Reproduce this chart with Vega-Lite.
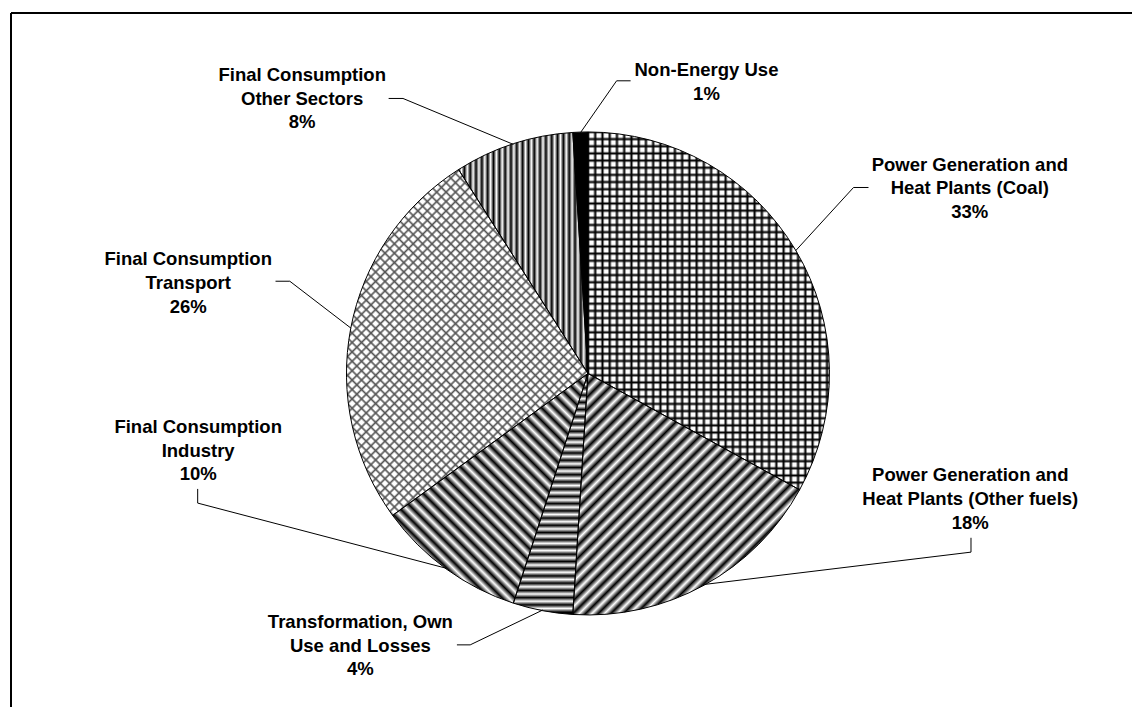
{
  "$schema": "https://vega.github.io/schema/vega-lite/v6.json",
  "width": 1133,
  "height": 708,
  "autosize": {"type": "fit", "contains": "padding"},
  "padding": {"left": 10, "top": 12, "right": 0, "bottom": 0},
  "background": "white",
  "config": {
    "view": {"stroke": null},
    "rule": {"color": "#000", "strokeWidth": 1},
    "text": {"font": "Liberation Sans", "fontSize": 18.5, "fontWeight": "bold", "lineHeight": 23.8, "align": "center", "baseline": "middle", "color": "#000", "lineBreak": "\n"}
  },
  "data": {
    "values": [
      {"id": "coal", "label": "Power Generation and\nHeat Plants (Coal)", "share": 33},
      {"id": "other", "label": "Power Generation and\nHeat Plants (Other fuels)", "share": 18},
      {"id": "trans", "label": "Transformation, Own\nUse and Losses", "share": 4},
      {"id": "ind", "label": "Final Consumption\nIndustry", "share": 10},
      {"id": "tpt", "label": "Final Consumption\nTransport", "share": 26},
      {"id": "oth", "label": "Final Consumption\nOther Sectors", "share": 8},
      {"id": "ne", "label": "Non-Energy Use", "share": 1}
    ]
  },
  "transform": [
    {"window": [{"op": "row_number", "as": "rn"}, {"op": "sum", "field": "share", "as": "cum"}], "frame": [null, 0]},
    {"joinaggregate": [{"op": "sum", "field": "share", "as": "total"}]},
    {"calculate": "2 * PI * (datum.cum - datum.share / 2) / datum.total", "as": "mid"},
    {"calculate": "sin(datum.mid)", "as": "ex"},
    {"calculate": "cos(datum.mid)", "as": "ey"},
    {"calculate": "datum.label + '\\n' + datum.share + '%'", "as": "txt"}
  ],
  "layer": [
    {
      "transform": [{"filter": "datum.rn === 1"}],
      "mark": {"type": "rule", "strokeWidth": 2},
      "encoding": {
        "x": {"datum": -2.3934, "type": "quantitative", "scale": {"domain": [-2.3934, 2.2567], "nice": false, "zero": false}, "axis": null},
        "y": {"datum": -1.3851, "type": "quantitative", "scale": {"domain": [-1.3851, 1.4969], "nice": false, "zero": false}, "axis": null},
        "y2": {"datum": 1.4969}
      }
    },
    {
      "transform": [{"filter": "datum.rn === 1"}],
      "mark": {"type": "rule", "strokeWidth": 2},
      "encoding": {
        "x": {"datum": -2.3934, "type": "quantitative", "scale": {"domain": [-2.3934, 2.2567], "nice": false, "zero": false}, "axis": null},
        "y": {"datum": 1.4969, "type": "quantitative", "scale": {"domain": [-1.3851, 1.4969], "nice": false, "zero": false}, "axis": null},
        "x2": {"datum": 2.2567}
      }
    },
    {
      "mark": {"type": "arc", "outerRadius": 241.5, "strokeWidth": 0},
      "encoding": {
        "x": {"datum": 0, "type": "quantitative", "scale": {"domain": [-2.3934, 2.2567], "nice": false, "zero": false}, "axis": null},
        "y": {"datum": 0, "type": "quantitative", "scale": {"domain": [-1.3851, 1.4969], "nice": false, "zero": false}, "axis": null},
        "theta": {"field": "share", "type": "quantitative", "stack": true},
        "order": {"field": "rn", "type": "quantitative"},
        "fill": {
          "condition": [
            {"test": "datum.id === 'coal'", "value": {"gradient": "linear", "x1": 0, "y1": 0, "x2": 0, "y2": 1, "stops": [
              {"offset":0,"color":"#000"},{"offset":0.006,"color":"#fff"},{"offset":0.014,"color":"#fff"},
              {"offset":0.02,"color":"#000"},{"offset":0.026,"color":"#fff"},{"offset":0.034,"color":"#fff"},
              {"offset":0.04,"color":"#000"},{"offset":0.046,"color":"#fff"},{"offset":0.054,"color":"#fff"},
              {"offset":0.06,"color":"#000"},{"offset":0.066,"color":"#fff"},{"offset":0.074,"color":"#fff"},
              {"offset":0.08,"color":"#000"},{"offset":0.086,"color":"#fff"},{"offset":0.094,"color":"#fff"},
              {"offset":0.1,"color":"#000"},{"offset":0.106,"color":"#fff"},{"offset":0.114,"color":"#fff"},
              {"offset":0.12,"color":"#000"},{"offset":0.126,"color":"#fff"},{"offset":0.134,"color":"#fff"},
              {"offset":0.14,"color":"#000"},{"offset":0.146,"color":"#fff"},{"offset":0.154,"color":"#fff"},
              {"offset":0.16,"color":"#000"},{"offset":0.166,"color":"#fff"},{"offset":0.174,"color":"#fff"},
              {"offset":0.18,"color":"#000"},{"offset":0.186,"color":"#fff"},{"offset":0.194,"color":"#fff"},
              {"offset":0.2,"color":"#000"},{"offset":0.206,"color":"#fff"},{"offset":0.214,"color":"#fff"},
              {"offset":0.22,"color":"#000"},{"offset":0.226,"color":"#fff"},{"offset":0.234,"color":"#fff"},
              {"offset":0.24,"color":"#000"},{"offset":0.246,"color":"#fff"},{"offset":0.254,"color":"#fff"},
              {"offset":0.26,"color":"#000"},{"offset":0.266,"color":"#fff"},{"offset":0.274,"color":"#fff"},
              {"offset":0.28,"color":"#000"},{"offset":0.286,"color":"#fff"},{"offset":0.294,"color":"#fff"},
              {"offset":0.3,"color":"#000"},{"offset":0.306,"color":"#fff"},{"offset":0.314,"color":"#fff"},
              {"offset":0.32,"color":"#000"},{"offset":0.326,"color":"#fff"},{"offset":0.334,"color":"#fff"},
              {"offset":0.34,"color":"#000"},{"offset":0.346,"color":"#fff"},{"offset":0.354,"color":"#fff"},
              {"offset":0.36,"color":"#000"},{"offset":0.366,"color":"#fff"},{"offset":0.374,"color":"#fff"},
              {"offset":0.38,"color":"#000"},{"offset":0.386,"color":"#fff"},{"offset":0.394,"color":"#fff"},
              {"offset":0.4,"color":"#000"},{"offset":0.406,"color":"#fff"},{"offset":0.414,"color":"#fff"},
              {"offset":0.42,"color":"#000"},{"offset":0.426,"color":"#fff"},{"offset":0.434,"color":"#fff"},
              {"offset":0.44,"color":"#000"},{"offset":0.446,"color":"#fff"},{"offset":0.454,"color":"#fff"},
              {"offset":0.46,"color":"#000"},{"offset":0.466,"color":"#fff"},{"offset":0.474,"color":"#fff"},
              {"offset":0.48,"color":"#000"},{"offset":0.486,"color":"#fff"},{"offset":0.494,"color":"#fff"},
              {"offset":0.5,"color":"#000"},{"offset":0.506,"color":"#fff"},{"offset":0.514,"color":"#fff"},
              {"offset":0.52,"color":"#000"},{"offset":0.526,"color":"#fff"},{"offset":0.534,"color":"#fff"},
              {"offset":0.54,"color":"#000"},{"offset":0.546,"color":"#fff"},{"offset":0.554,"color":"#fff"},
              {"offset":0.56,"color":"#000"},{"offset":0.566,"color":"#fff"},{"offset":0.574,"color":"#fff"},
              {"offset":0.58,"color":"#000"},{"offset":0.586,"color":"#fff"},{"offset":0.594,"color":"#fff"},
              {"offset":0.6,"color":"#000"},{"offset":0.606,"color":"#fff"},{"offset":0.614,"color":"#fff"},
              {"offset":0.62,"color":"#000"},{"offset":0.626,"color":"#fff"},{"offset":0.634,"color":"#fff"},
              {"offset":0.64,"color":"#000"},{"offset":0.646,"color":"#fff"},{"offset":0.654,"color":"#fff"},
              {"offset":0.66,"color":"#000"},{"offset":0.666,"color":"#fff"},{"offset":0.674,"color":"#fff"},
              {"offset":0.68,"color":"#000"},{"offset":0.686,"color":"#fff"},{"offset":0.694,"color":"#fff"},
              {"offset":0.7,"color":"#000"},{"offset":0.706,"color":"#fff"},{"offset":0.714,"color":"#fff"},
              {"offset":0.72,"color":"#000"},{"offset":0.726,"color":"#fff"},{"offset":0.734,"color":"#fff"},
              {"offset":0.74,"color":"#000"},{"offset":0.746,"color":"#fff"},{"offset":0.754,"color":"#fff"},
              {"offset":0.76,"color":"#000"},{"offset":0.766,"color":"#fff"},{"offset":0.774,"color":"#fff"},
              {"offset":0.78,"color":"#000"},{"offset":0.786,"color":"#fff"},{"offset":0.794,"color":"#fff"},
              {"offset":0.8,"color":"#000"},{"offset":0.806,"color":"#fff"},{"offset":0.814,"color":"#fff"},
              {"offset":0.82,"color":"#000"},{"offset":0.826,"color":"#fff"},{"offset":0.834,"color":"#fff"},
              {"offset":0.84,"color":"#000"},{"offset":0.846,"color":"#fff"},{"offset":0.854,"color":"#fff"},
              {"offset":0.86,"color":"#000"},{"offset":0.866,"color":"#fff"},{"offset":0.874,"color":"#fff"},
              {"offset":0.88,"color":"#000"},{"offset":0.886,"color":"#fff"},{"offset":0.894,"color":"#fff"},
              {"offset":0.9,"color":"#000"},{"offset":0.906,"color":"#fff"},{"offset":0.914,"color":"#fff"},
              {"offset":0.92,"color":"#000"},{"offset":0.926,"color":"#fff"},{"offset":0.934,"color":"#fff"},
              {"offset":0.94,"color":"#000"},{"offset":0.946,"color":"#fff"},{"offset":0.954,"color":"#fff"},
              {"offset":0.96,"color":"#000"},{"offset":0.966,"color":"#fff"},{"offset":0.974,"color":"#fff"},
              {"offset":0.98,"color":"#000"},{"offset":0.986,"color":"#fff"},{"offset":0.994,"color":"#fff"},
              {"offset":1,"color":"#000"}]}},
            {"test": "datum.id === 'other'", "value": {"gradient": "linear", "x1": 0, "y1": 0, "x2": 0.9677, "y2": 1.0303, "stops": [
              {"offset":0,"color":"#000"},{"offset":0.0135,"color":"#fff"},{"offset":0.027,"color":"#000"},{"offset":0.0405,"color":"#fff"},
              {"offset":0.054,"color":"#000"},{"offset":0.0675,"color":"#fff"},{"offset":0.081,"color":"#000"},{"offset":0.0945,"color":"#fff"},
              {"offset":0.108,"color":"#000"},{"offset":0.1215,"color":"#fff"},{"offset":0.135,"color":"#000"},{"offset":0.1485,"color":"#fff"},
              {"offset":0.162,"color":"#000"},{"offset":0.1755,"color":"#fff"},{"offset":0.189,"color":"#000"},{"offset":0.2025,"color":"#fff"},
              {"offset":0.216,"color":"#000"},{"offset":0.2295,"color":"#fff"},{"offset":0.243,"color":"#000"},{"offset":0.2565,"color":"#fff"},
              {"offset":0.27,"color":"#000"},{"offset":0.2835,"color":"#fff"},{"offset":0.297,"color":"#000"},{"offset":0.3105,"color":"#fff"},
              {"offset":0.324,"color":"#000"},{"offset":0.3375,"color":"#fff"},{"offset":0.351,"color":"#000"},{"offset":0.3645,"color":"#fff"},
              {"offset":0.378,"color":"#000"},{"offset":0.3915,"color":"#fff"},{"offset":0.405,"color":"#000"},{"offset":0.4185,"color":"#fff"},
              {"offset":0.432,"color":"#000"},{"offset":0.4455,"color":"#fff"},{"offset":0.459,"color":"#000"},{"offset":0.4725,"color":"#fff"},
              {"offset":0.486,"color":"#000"},{"offset":0.4995,"color":"#fff"},{"offset":0.513,"color":"#000"},{"offset":0.5265,"color":"#fff"},
              {"offset":0.54,"color":"#000"},{"offset":0.5535,"color":"#fff"},{"offset":0.567,"color":"#000"},{"offset":0.5805,"color":"#fff"},
              {"offset":0.594,"color":"#000"},{"offset":0.6075,"color":"#fff"},{"offset":0.621,"color":"#000"},{"offset":0.6345,"color":"#fff"},
              {"offset":0.648,"color":"#000"},{"offset":0.6615,"color":"#fff"},{"offset":0.675,"color":"#000"},{"offset":0.6885,"color":"#fff"},
              {"offset":0.702,"color":"#000"},{"offset":0.7155,"color":"#fff"},{"offset":0.729,"color":"#000"},{"offset":0.7425,"color":"#fff"},
              {"offset":0.756,"color":"#000"},{"offset":0.7695,"color":"#fff"},{"offset":0.783,"color":"#000"},{"offset":0.7965,"color":"#fff"},
              {"offset":0.81,"color":"#000"},{"offset":0.8235,"color":"#fff"},{"offset":0.837,"color":"#000"},{"offset":0.8505,"color":"#fff"},
              {"offset":0.864,"color":"#000"},{"offset":0.8775,"color":"#fff"},{"offset":0.891,"color":"#000"},{"offset":0.9045,"color":"#fff"},
              {"offset":0.918,"color":"#000"},{"offset":0.9315,"color":"#fff"},{"offset":0.945,"color":"#000"},{"offset":0.9585,"color":"#fff"},
              {"offset":0.972,"color":"#000"},{"offset":0.9855,"color":"#fff"},{"offset":0.999,"color":"#000"}]}},
            {"test": "datum.id === 'trans'", "value": {"gradient": "linear", "x1": 0, "y1": 0, "x2": 0, "y2": 1, "stops": [
              {"offset":0,"color":"#000"},{"offset":0.015,"color":"#fff"},{"offset":0.03,"color":"#000"},{"offset":0.045,"color":"#fff"},
              {"offset":0.06,"color":"#000"},{"offset":0.075,"color":"#fff"},{"offset":0.09,"color":"#000"},{"offset":0.105,"color":"#fff"},
              {"offset":0.12,"color":"#000"},{"offset":0.135,"color":"#fff"},{"offset":0.15,"color":"#000"},{"offset":0.165,"color":"#fff"},
              {"offset":0.18,"color":"#000"},{"offset":0.195,"color":"#fff"},{"offset":0.21,"color":"#000"},{"offset":0.225,"color":"#fff"},
              {"offset":0.24,"color":"#000"},{"offset":0.255,"color":"#fff"},{"offset":0.27,"color":"#000"},{"offset":0.285,"color":"#fff"},
              {"offset":0.3,"color":"#000"},{"offset":0.315,"color":"#fff"},{"offset":0.33,"color":"#000"},{"offset":0.345,"color":"#fff"},
              {"offset":0.36,"color":"#000"},{"offset":0.375,"color":"#fff"},{"offset":0.39,"color":"#000"},{"offset":0.405,"color":"#fff"},
              {"offset":0.42,"color":"#000"},{"offset":0.435,"color":"#fff"},{"offset":0.45,"color":"#000"},{"offset":0.465,"color":"#fff"},
              {"offset":0.48,"color":"#000"},{"offset":0.495,"color":"#fff"},{"offset":0.51,"color":"#000"},{"offset":0.525,"color":"#fff"},
              {"offset":0.54,"color":"#000"},{"offset":0.555,"color":"#fff"},{"offset":0.57,"color":"#000"},{"offset":0.585,"color":"#fff"},
              {"offset":0.6,"color":"#000"},{"offset":0.615,"color":"#fff"},{"offset":0.63,"color":"#000"},{"offset":0.645,"color":"#fff"},
              {"offset":0.66,"color":"#000"},{"offset":0.675,"color":"#fff"},{"offset":0.69,"color":"#000"},{"offset":0.705,"color":"#fff"},
              {"offset":0.72,"color":"#000"},{"offset":0.735,"color":"#fff"},{"offset":0.75,"color":"#000"},{"offset":0.765,"color":"#fff"},
              {"offset":0.78,"color":"#000"},{"offset":0.795,"color":"#fff"},{"offset":0.81,"color":"#000"},{"offset":0.825,"color":"#fff"},
              {"offset":0.84,"color":"#000"},{"offset":0.855,"color":"#fff"},{"offset":0.87,"color":"#000"},{"offset":0.885,"color":"#fff"},
              {"offset":0.9,"color":"#000"},{"offset":0.915,"color":"#fff"},{"offset":0.93,"color":"#000"},{"offset":0.945,"color":"#fff"},
              {"offset":0.96,"color":"#000"},{"offset":0.975,"color":"#fff"},{"offset":0.99,"color":"#000"}]}},
            {"test": "datum.id === 'ind'", "value": {"gradient": "linear", "x1": 0, "y1": 1, "x2": 0.9133, "y2": -0.0738, "stops": [
              {"offset":0,"color":"#000"},{"offset":0.015,"color":"#fff"},{"offset":0.03,"color":"#000"},{"offset":0.045,"color":"#fff"},
              {"offset":0.06,"color":"#000"},{"offset":0.075,"color":"#fff"},{"offset":0.09,"color":"#000"},{"offset":0.105,"color":"#fff"},
              {"offset":0.12,"color":"#000"},{"offset":0.135,"color":"#fff"},{"offset":0.15,"color":"#000"},{"offset":0.165,"color":"#fff"},
              {"offset":0.18,"color":"#000"},{"offset":0.195,"color":"#fff"},{"offset":0.21,"color":"#000"},{"offset":0.225,"color":"#fff"},
              {"offset":0.24,"color":"#000"},{"offset":0.255,"color":"#fff"},{"offset":0.27,"color":"#000"},{"offset":0.285,"color":"#fff"},
              {"offset":0.3,"color":"#000"},{"offset":0.315,"color":"#fff"},{"offset":0.33,"color":"#000"},{"offset":0.345,"color":"#fff"},
              {"offset":0.36,"color":"#000"},{"offset":0.375,"color":"#fff"},{"offset":0.39,"color":"#000"},{"offset":0.405,"color":"#fff"},
              {"offset":0.42,"color":"#000"},{"offset":0.435,"color":"#fff"},{"offset":0.45,"color":"#000"},{"offset":0.465,"color":"#fff"},
              {"offset":0.48,"color":"#000"},{"offset":0.495,"color":"#fff"},{"offset":0.51,"color":"#000"},{"offset":0.525,"color":"#fff"},
              {"offset":0.54,"color":"#000"},{"offset":0.555,"color":"#fff"},{"offset":0.57,"color":"#000"},{"offset":0.585,"color":"#fff"},
              {"offset":0.6,"color":"#000"},{"offset":0.615,"color":"#fff"},{"offset":0.63,"color":"#000"},{"offset":0.645,"color":"#fff"},
              {"offset":0.66,"color":"#000"},{"offset":0.675,"color":"#fff"},{"offset":0.69,"color":"#000"},{"offset":0.705,"color":"#fff"},
              {"offset":0.72,"color":"#000"},{"offset":0.735,"color":"#fff"},{"offset":0.75,"color":"#000"},{"offset":0.765,"color":"#fff"},
              {"offset":0.78,"color":"#000"},{"offset":0.795,"color":"#fff"},{"offset":0.81,"color":"#000"},{"offset":0.825,"color":"#fff"},
              {"offset":0.84,"color":"#000"},{"offset":0.855,"color":"#fff"},{"offset":0.87,"color":"#000"},{"offset":0.885,"color":"#fff"},
              {"offset":0.9,"color":"#000"},{"offset":0.915,"color":"#fff"},{"offset":0.93,"color":"#000"},{"offset":0.945,"color":"#fff"},
              {"offset":0.96,"color":"#000"},{"offset":0.975,"color":"#fff"},{"offset":0.99,"color":"#000"}]}},
            {"test": "datum.id === 'tpt'", "value": {"gradient": "linear", "x1": 0, "y1": 0, "x2": 0.7973, "y2": 1.1416, "stops": [
              {"offset":0,"color":"#555"},{"offset":0.004,"color":"#fff"},{"offset":0.012,"color":"#fff"},
              {"offset":0.016,"color":"#555"},{"offset":0.02,"color":"#fff"},{"offset":0.028,"color":"#fff"},
              {"offset":0.032,"color":"#555"},{"offset":0.036,"color":"#fff"},{"offset":0.044,"color":"#fff"},
              {"offset":0.048,"color":"#555"},{"offset":0.052,"color":"#fff"},{"offset":0.06,"color":"#fff"},
              {"offset":0.064,"color":"#555"},{"offset":0.068,"color":"#fff"},{"offset":0.076,"color":"#fff"},
              {"offset":0.08,"color":"#555"},{"offset":0.084,"color":"#fff"},{"offset":0.092,"color":"#fff"},
              {"offset":0.096,"color":"#555"},{"offset":0.1,"color":"#fff"},{"offset":0.108,"color":"#fff"},
              {"offset":0.112,"color":"#555"},{"offset":0.116,"color":"#fff"},{"offset":0.124,"color":"#fff"},
              {"offset":0.128,"color":"#555"},{"offset":0.132,"color":"#fff"},{"offset":0.14,"color":"#fff"},
              {"offset":0.144,"color":"#555"},{"offset":0.148,"color":"#fff"},{"offset":0.156,"color":"#fff"},
              {"offset":0.16,"color":"#555"},{"offset":0.164,"color":"#fff"},{"offset":0.172,"color":"#fff"},
              {"offset":0.176,"color":"#555"},{"offset":0.18,"color":"#fff"},{"offset":0.188,"color":"#fff"},
              {"offset":0.192,"color":"#555"},{"offset":0.196,"color":"#fff"},{"offset":0.204,"color":"#fff"},
              {"offset":0.208,"color":"#555"},{"offset":0.212,"color":"#fff"},{"offset":0.22,"color":"#fff"},
              {"offset":0.224,"color":"#555"},{"offset":0.228,"color":"#fff"},{"offset":0.236,"color":"#fff"},
              {"offset":0.24,"color":"#555"},{"offset":0.244,"color":"#fff"},{"offset":0.252,"color":"#fff"},
              {"offset":0.256,"color":"#555"},{"offset":0.26,"color":"#fff"},{"offset":0.268,"color":"#fff"},
              {"offset":0.272,"color":"#555"},{"offset":0.276,"color":"#fff"},{"offset":0.284,"color":"#fff"},
              {"offset":0.288,"color":"#555"},{"offset":0.292,"color":"#fff"},{"offset":0.3,"color":"#fff"},
              {"offset":0.304,"color":"#555"},{"offset":0.308,"color":"#fff"},{"offset":0.316,"color":"#fff"},
              {"offset":0.32,"color":"#555"},{"offset":0.324,"color":"#fff"},{"offset":0.332,"color":"#fff"},
              {"offset":0.336,"color":"#555"},{"offset":0.34,"color":"#fff"},{"offset":0.348,"color":"#fff"},
              {"offset":0.352,"color":"#555"},{"offset":0.356,"color":"#fff"},{"offset":0.364,"color":"#fff"},
              {"offset":0.368,"color":"#555"},{"offset":0.372,"color":"#fff"},{"offset":0.38,"color":"#fff"},
              {"offset":0.384,"color":"#555"},{"offset":0.388,"color":"#fff"},{"offset":0.396,"color":"#fff"},
              {"offset":0.4,"color":"#555"},{"offset":0.404,"color":"#fff"},{"offset":0.412,"color":"#fff"},
              {"offset":0.416,"color":"#555"},{"offset":0.42,"color":"#fff"},{"offset":0.428,"color":"#fff"},
              {"offset":0.432,"color":"#555"},{"offset":0.436,"color":"#fff"},{"offset":0.444,"color":"#fff"},
              {"offset":0.448,"color":"#555"},{"offset":0.452,"color":"#fff"},{"offset":0.46,"color":"#fff"},
              {"offset":0.464,"color":"#555"},{"offset":0.468,"color":"#fff"},{"offset":0.476,"color":"#fff"},
              {"offset":0.48,"color":"#555"},{"offset":0.484,"color":"#fff"},{"offset":0.492,"color":"#fff"},
              {"offset":0.496,"color":"#555"},{"offset":0.5,"color":"#fff"},{"offset":0.508,"color":"#fff"},
              {"offset":0.512,"color":"#555"},{"offset":0.516,"color":"#fff"},{"offset":0.524,"color":"#fff"},
              {"offset":0.528,"color":"#555"},{"offset":0.532,"color":"#fff"},{"offset":0.54,"color":"#fff"},
              {"offset":0.544,"color":"#555"},{"offset":0.548,"color":"#fff"},{"offset":0.556,"color":"#fff"},
              {"offset":0.56,"color":"#555"},{"offset":0.564,"color":"#fff"},{"offset":0.572,"color":"#fff"},
              {"offset":0.576,"color":"#555"},{"offset":0.58,"color":"#fff"},{"offset":0.588,"color":"#fff"},
              {"offset":0.592,"color":"#555"},{"offset":0.596,"color":"#fff"},{"offset":0.604,"color":"#fff"},
              {"offset":0.608,"color":"#555"},{"offset":0.612,"color":"#fff"},{"offset":0.62,"color":"#fff"},
              {"offset":0.624,"color":"#555"},{"offset":0.628,"color":"#fff"},{"offset":0.636,"color":"#fff"},
              {"offset":0.64,"color":"#555"},{"offset":0.644,"color":"#fff"},{"offset":0.652,"color":"#fff"},
              {"offset":0.656,"color":"#555"},{"offset":0.66,"color":"#fff"},{"offset":0.668,"color":"#fff"},
              {"offset":0.672,"color":"#555"},{"offset":0.676,"color":"#fff"},{"offset":0.684,"color":"#fff"},
              {"offset":0.688,"color":"#555"},{"offset":0.692,"color":"#fff"},{"offset":0.7,"color":"#fff"},
              {"offset":0.704,"color":"#555"},{"offset":0.708,"color":"#fff"},{"offset":0.716,"color":"#fff"},
              {"offset":0.72,"color":"#555"},{"offset":0.724,"color":"#fff"},{"offset":0.732,"color":"#fff"},
              {"offset":0.736,"color":"#555"},{"offset":0.74,"color":"#fff"},{"offset":0.748,"color":"#fff"},
              {"offset":0.752,"color":"#555"},{"offset":0.756,"color":"#fff"},{"offset":0.764,"color":"#fff"},
              {"offset":0.768,"color":"#555"},{"offset":0.772,"color":"#fff"},{"offset":0.78,"color":"#fff"},
              {"offset":0.784,"color":"#555"},{"offset":0.788,"color":"#fff"},{"offset":0.796,"color":"#fff"},
              {"offset":0.8,"color":"#555"},{"offset":0.804,"color":"#fff"},{"offset":0.812,"color":"#fff"},
              {"offset":0.816,"color":"#555"},{"offset":0.82,"color":"#fff"},{"offset":0.828,"color":"#fff"},
              {"offset":0.832,"color":"#555"},{"offset":0.836,"color":"#fff"},{"offset":0.844,"color":"#fff"},
              {"offset":0.848,"color":"#555"},{"offset":0.852,"color":"#fff"},{"offset":0.86,"color":"#fff"},
              {"offset":0.864,"color":"#555"},{"offset":0.868,"color":"#fff"},{"offset":0.876,"color":"#fff"},
              {"offset":0.88,"color":"#555"},{"offset":0.884,"color":"#fff"},{"offset":0.892,"color":"#fff"},
              {"offset":0.896,"color":"#555"},{"offset":0.9,"color":"#fff"},{"offset":0.908,"color":"#fff"},
              {"offset":0.912,"color":"#555"},{"offset":0.916,"color":"#fff"},{"offset":0.924,"color":"#fff"},
              {"offset":0.928,"color":"#555"},{"offset":0.932,"color":"#fff"},{"offset":0.94,"color":"#fff"},
              {"offset":0.944,"color":"#555"},{"offset":0.948,"color":"#fff"},{"offset":0.956,"color":"#fff"},
              {"offset":0.96,"color":"#555"},{"offset":0.964,"color":"#fff"},{"offset":0.972,"color":"#fff"},
              {"offset":0.976,"color":"#555"},{"offset":0.98,"color":"#fff"},{"offset":0.988,"color":"#fff"},
              {"offset":0.992,"color":"#555"},{"offset":0.996,"color":"#fff"}]}},
            {"test": "datum.id === 'oth'", "value": {"gradient": "linear", "x1": 0, "y1": 0, "x2": 1, "y2": 0, "stops": [
              {"offset":0,"color":"#000"},{"offset":0.0225,"color":"#fff"},{"offset":0.045,"color":"#000"},{"offset":0.0675,"color":"#fff"},
              {"offset":0.09,"color":"#000"},{"offset":0.1125,"color":"#fff"},{"offset":0.135,"color":"#000"},{"offset":0.1575,"color":"#fff"},
              {"offset":0.18,"color":"#000"},{"offset":0.2025,"color":"#fff"},{"offset":0.225,"color":"#000"},{"offset":0.2475,"color":"#fff"},
              {"offset":0.27,"color":"#000"},{"offset":0.2925,"color":"#fff"},{"offset":0.315,"color":"#000"},{"offset":0.3375,"color":"#fff"},
              {"offset":0.36,"color":"#000"},{"offset":0.3825,"color":"#fff"},{"offset":0.405,"color":"#000"},{"offset":0.4275,"color":"#fff"},
              {"offset":0.45,"color":"#000"},{"offset":0.4725,"color":"#fff"},{"offset":0.495,"color":"#000"},{"offset":0.5175,"color":"#fff"},
              {"offset":0.54,"color":"#000"},{"offset":0.5625,"color":"#fff"},{"offset":0.585,"color":"#000"},{"offset":0.6075,"color":"#fff"},
              {"offset":0.63,"color":"#000"},{"offset":0.6525,"color":"#fff"},{"offset":0.675,"color":"#000"},{"offset":0.6975,"color":"#fff"},
              {"offset":0.72,"color":"#000"},{"offset":0.7425,"color":"#fff"},{"offset":0.765,"color":"#000"},{"offset":0.7875,"color":"#fff"},
              {"offset":0.81,"color":"#000"},{"offset":0.8325,"color":"#fff"},{"offset":0.855,"color":"#000"},{"offset":0.8775,"color":"#fff"},
              {"offset":0.9,"color":"#000"},{"offset":0.9225,"color":"#fff"},{"offset":0.945,"color":"#000"},{"offset":0.9675,"color":"#fff"},
              {"offset":0.99,"color":"#000"}]}}
          ],
          "value": "#000"
        }
      }
    },
    {
      "mark": {"type": "arc", "outerRadius": 241.5, "stroke": "#000", "strokeWidth": 1},
      "encoding": {
        "x": {"datum": 0, "type": "quantitative", "scale": {"domain": [-2.3934, 2.2567], "nice": false, "zero": false}, "axis": null},
        "y": {"datum": 0, "type": "quantitative", "scale": {"domain": [-1.3851, 1.4969], "nice": false, "zero": false}, "axis": null},
        "theta": {"field": "share", "type": "quantitative", "stack": true},
        "order": {"field": "rn", "type": "quantitative"},
        "fill": {
          "condition": [
            {"test": "datum.id === 'coal'", "value": {"gradient": "linear", "x1": 0, "y1": 0, "x2": 1, "y2": 0, "stops": [
              {"offset":0,"color":"#000"},{"offset":0.009,"color":"rgba(0,0,0,0)"},{"offset":0.021,"color":"rgba(0,0,0,0)"},
              {"offset":0.03,"color":"#000"},{"offset":0.039,"color":"rgba(0,0,0,0)"},{"offset":0.051,"color":"rgba(0,0,0,0)"},
              {"offset":0.06,"color":"#000"},{"offset":0.069,"color":"rgba(0,0,0,0)"},{"offset":0.081,"color":"rgba(0,0,0,0)"},
              {"offset":0.09,"color":"#000"},{"offset":0.099,"color":"rgba(0,0,0,0)"},{"offset":0.111,"color":"rgba(0,0,0,0)"},
              {"offset":0.12,"color":"#000"},{"offset":0.129,"color":"rgba(0,0,0,0)"},{"offset":0.141,"color":"rgba(0,0,0,0)"},
              {"offset":0.15,"color":"#000"},{"offset":0.159,"color":"rgba(0,0,0,0)"},{"offset":0.171,"color":"rgba(0,0,0,0)"},
              {"offset":0.18,"color":"#000"},{"offset":0.189,"color":"rgba(0,0,0,0)"},{"offset":0.201,"color":"rgba(0,0,0,0)"},
              {"offset":0.21,"color":"#000"},{"offset":0.219,"color":"rgba(0,0,0,0)"},{"offset":0.231,"color":"rgba(0,0,0,0)"},
              {"offset":0.24,"color":"#000"},{"offset":0.249,"color":"rgba(0,0,0,0)"},{"offset":0.261,"color":"rgba(0,0,0,0)"},
              {"offset":0.27,"color":"#000"},{"offset":0.279,"color":"rgba(0,0,0,0)"},{"offset":0.291,"color":"rgba(0,0,0,0)"},
              {"offset":0.3,"color":"#000"},{"offset":0.309,"color":"rgba(0,0,0,0)"},{"offset":0.321,"color":"rgba(0,0,0,0)"},
              {"offset":0.33,"color":"#000"},{"offset":0.339,"color":"rgba(0,0,0,0)"},{"offset":0.351,"color":"rgba(0,0,0,0)"},
              {"offset":0.36,"color":"#000"},{"offset":0.369,"color":"rgba(0,0,0,0)"},{"offset":0.381,"color":"rgba(0,0,0,0)"},
              {"offset":0.39,"color":"#000"},{"offset":0.399,"color":"rgba(0,0,0,0)"},{"offset":0.411,"color":"rgba(0,0,0,0)"},
              {"offset":0.42,"color":"#000"},{"offset":0.429,"color":"rgba(0,0,0,0)"},{"offset":0.441,"color":"rgba(0,0,0,0)"},
              {"offset":0.45,"color":"#000"},{"offset":0.459,"color":"rgba(0,0,0,0)"},{"offset":0.471,"color":"rgba(0,0,0,0)"},
              {"offset":0.48,"color":"#000"},{"offset":0.489,"color":"rgba(0,0,0,0)"},{"offset":0.501,"color":"rgba(0,0,0,0)"},
              {"offset":0.51,"color":"#000"},{"offset":0.519,"color":"rgba(0,0,0,0)"},{"offset":0.531,"color":"rgba(0,0,0,0)"},
              {"offset":0.54,"color":"#000"},{"offset":0.549,"color":"rgba(0,0,0,0)"},{"offset":0.561,"color":"rgba(0,0,0,0)"},
              {"offset":0.57,"color":"#000"},{"offset":0.579,"color":"rgba(0,0,0,0)"},{"offset":0.591,"color":"rgba(0,0,0,0)"},
              {"offset":0.6,"color":"#000"},{"offset":0.609,"color":"rgba(0,0,0,0)"},{"offset":0.621,"color":"rgba(0,0,0,0)"},
              {"offset":0.63,"color":"#000"},{"offset":0.639,"color":"rgba(0,0,0,0)"},{"offset":0.651,"color":"rgba(0,0,0,0)"},
              {"offset":0.66,"color":"#000"},{"offset":0.669,"color":"rgba(0,0,0,0)"},{"offset":0.681,"color":"rgba(0,0,0,0)"},
              {"offset":0.69,"color":"#000"},{"offset":0.699,"color":"rgba(0,0,0,0)"},{"offset":0.711,"color":"rgba(0,0,0,0)"},
              {"offset":0.72,"color":"#000"},{"offset":0.729,"color":"rgba(0,0,0,0)"},{"offset":0.741,"color":"rgba(0,0,0,0)"},
              {"offset":0.75,"color":"#000"},{"offset":0.759,"color":"rgba(0,0,0,0)"},{"offset":0.771,"color":"rgba(0,0,0,0)"},
              {"offset":0.78,"color":"#000"},{"offset":0.789,"color":"rgba(0,0,0,0)"},{"offset":0.801,"color":"rgba(0,0,0,0)"},
              {"offset":0.81,"color":"#000"},{"offset":0.819,"color":"rgba(0,0,0,0)"},{"offset":0.831,"color":"rgba(0,0,0,0)"},
              {"offset":0.84,"color":"#000"},{"offset":0.849,"color":"rgba(0,0,0,0)"},{"offset":0.861,"color":"rgba(0,0,0,0)"},
              {"offset":0.87,"color":"#000"},{"offset":0.879,"color":"rgba(0,0,0,0)"},{"offset":0.891,"color":"rgba(0,0,0,0)"},
              {"offset":0.9,"color":"#000"},{"offset":0.909,"color":"rgba(0,0,0,0)"},{"offset":0.921,"color":"rgba(0,0,0,0)"},
              {"offset":0.93,"color":"#000"},{"offset":0.939,"color":"rgba(0,0,0,0)"},{"offset":0.951,"color":"rgba(0,0,0,0)"},
              {"offset":0.96,"color":"#000"},{"offset":0.969,"color":"rgba(0,0,0,0)"},{"offset":0.981,"color":"rgba(0,0,0,0)"},
              {"offset":0.99,"color":"#000"},{"offset":0.999,"color":"rgba(0,0,0,0)"}]}},
            {"test": "datum.id === 'tpt'", "value": {"gradient": "linear", "x1": 0, "y1": 1, "x2": 0.7973, "y2": -0.1416, "stops": [
              {"offset":0,"color":"#555"},{"offset":0.004,"color":"rgba(85,85,85,0)"},{"offset":0.012,"color":"rgba(85,85,85,0)"},
              {"offset":0.016,"color":"#555"},{"offset":0.02,"color":"rgba(85,85,85,0)"},{"offset":0.028,"color":"rgba(85,85,85,0)"},
              {"offset":0.032,"color":"#555"},{"offset":0.036,"color":"rgba(85,85,85,0)"},{"offset":0.044,"color":"rgba(85,85,85,0)"},
              {"offset":0.048,"color":"#555"},{"offset":0.052,"color":"rgba(85,85,85,0)"},{"offset":0.06,"color":"rgba(85,85,85,0)"},
              {"offset":0.064,"color":"#555"},{"offset":0.068,"color":"rgba(85,85,85,0)"},{"offset":0.076,"color":"rgba(85,85,85,0)"},
              {"offset":0.08,"color":"#555"},{"offset":0.084,"color":"rgba(85,85,85,0)"},{"offset":0.092,"color":"rgba(85,85,85,0)"},
              {"offset":0.096,"color":"#555"},{"offset":0.1,"color":"rgba(85,85,85,0)"},{"offset":0.108,"color":"rgba(85,85,85,0)"},
              {"offset":0.112,"color":"#555"},{"offset":0.116,"color":"rgba(85,85,85,0)"},{"offset":0.124,"color":"rgba(85,85,85,0)"},
              {"offset":0.128,"color":"#555"},{"offset":0.132,"color":"rgba(85,85,85,0)"},{"offset":0.14,"color":"rgba(85,85,85,0)"},
              {"offset":0.144,"color":"#555"},{"offset":0.148,"color":"rgba(85,85,85,0)"},{"offset":0.156,"color":"rgba(85,85,85,0)"},
              {"offset":0.16,"color":"#555"},{"offset":0.164,"color":"rgba(85,85,85,0)"},{"offset":0.172,"color":"rgba(85,85,85,0)"},
              {"offset":0.176,"color":"#555"},{"offset":0.18,"color":"rgba(85,85,85,0)"},{"offset":0.188,"color":"rgba(85,85,85,0)"},
              {"offset":0.192,"color":"#555"},{"offset":0.196,"color":"rgba(85,85,85,0)"},{"offset":0.204,"color":"rgba(85,85,85,0)"},
              {"offset":0.208,"color":"#555"},{"offset":0.212,"color":"rgba(85,85,85,0)"},{"offset":0.22,"color":"rgba(85,85,85,0)"},
              {"offset":0.224,"color":"#555"},{"offset":0.228,"color":"rgba(85,85,85,0)"},{"offset":0.236,"color":"rgba(85,85,85,0)"},
              {"offset":0.24,"color":"#555"},{"offset":0.244,"color":"rgba(85,85,85,0)"},{"offset":0.252,"color":"rgba(85,85,85,0)"},
              {"offset":0.256,"color":"#555"},{"offset":0.26,"color":"rgba(85,85,85,0)"},{"offset":0.268,"color":"rgba(85,85,85,0)"},
              {"offset":0.272,"color":"#555"},{"offset":0.276,"color":"rgba(85,85,85,0)"},{"offset":0.284,"color":"rgba(85,85,85,0)"},
              {"offset":0.288,"color":"#555"},{"offset":0.292,"color":"rgba(85,85,85,0)"},{"offset":0.3,"color":"rgba(85,85,85,0)"},
              {"offset":0.304,"color":"#555"},{"offset":0.308,"color":"rgba(85,85,85,0)"},{"offset":0.316,"color":"rgba(85,85,85,0)"},
              {"offset":0.32,"color":"#555"},{"offset":0.324,"color":"rgba(85,85,85,0)"},{"offset":0.332,"color":"rgba(85,85,85,0)"},
              {"offset":0.336,"color":"#555"},{"offset":0.34,"color":"rgba(85,85,85,0)"},{"offset":0.348,"color":"rgba(85,85,85,0)"},
              {"offset":0.352,"color":"#555"},{"offset":0.356,"color":"rgba(85,85,85,0)"},{"offset":0.364,"color":"rgba(85,85,85,0)"},
              {"offset":0.368,"color":"#555"},{"offset":0.372,"color":"rgba(85,85,85,0)"},{"offset":0.38,"color":"rgba(85,85,85,0)"},
              {"offset":0.384,"color":"#555"},{"offset":0.388,"color":"rgba(85,85,85,0)"},{"offset":0.396,"color":"rgba(85,85,85,0)"},
              {"offset":0.4,"color":"#555"},{"offset":0.404,"color":"rgba(85,85,85,0)"},{"offset":0.412,"color":"rgba(85,85,85,0)"},
              {"offset":0.416,"color":"#555"},{"offset":0.42,"color":"rgba(85,85,85,0)"},{"offset":0.428,"color":"rgba(85,85,85,0)"},
              {"offset":0.432,"color":"#555"},{"offset":0.436,"color":"rgba(85,85,85,0)"},{"offset":0.444,"color":"rgba(85,85,85,0)"},
              {"offset":0.448,"color":"#555"},{"offset":0.452,"color":"rgba(85,85,85,0)"},{"offset":0.46,"color":"rgba(85,85,85,0)"},
              {"offset":0.464,"color":"#555"},{"offset":0.468,"color":"rgba(85,85,85,0)"},{"offset":0.476,"color":"rgba(85,85,85,0)"},
              {"offset":0.48,"color":"#555"},{"offset":0.484,"color":"rgba(85,85,85,0)"},{"offset":0.492,"color":"rgba(85,85,85,0)"},
              {"offset":0.496,"color":"#555"},{"offset":0.5,"color":"rgba(85,85,85,0)"},{"offset":0.508,"color":"rgba(85,85,85,0)"},
              {"offset":0.512,"color":"#555"},{"offset":0.516,"color":"rgba(85,85,85,0)"},{"offset":0.524,"color":"rgba(85,85,85,0)"},
              {"offset":0.528,"color":"#555"},{"offset":0.532,"color":"rgba(85,85,85,0)"},{"offset":0.54,"color":"rgba(85,85,85,0)"},
              {"offset":0.544,"color":"#555"},{"offset":0.548,"color":"rgba(85,85,85,0)"},{"offset":0.556,"color":"rgba(85,85,85,0)"},
              {"offset":0.56,"color":"#555"},{"offset":0.564,"color":"rgba(85,85,85,0)"},{"offset":0.572,"color":"rgba(85,85,85,0)"},
              {"offset":0.576,"color":"#555"},{"offset":0.58,"color":"rgba(85,85,85,0)"},{"offset":0.588,"color":"rgba(85,85,85,0)"},
              {"offset":0.592,"color":"#555"},{"offset":0.596,"color":"rgba(85,85,85,0)"},{"offset":0.604,"color":"rgba(85,85,85,0)"},
              {"offset":0.608,"color":"#555"},{"offset":0.612,"color":"rgba(85,85,85,0)"},{"offset":0.62,"color":"rgba(85,85,85,0)"},
              {"offset":0.624,"color":"#555"},{"offset":0.628,"color":"rgba(85,85,85,0)"},{"offset":0.636,"color":"rgba(85,85,85,0)"},
              {"offset":0.64,"color":"#555"},{"offset":0.644,"color":"rgba(85,85,85,0)"},{"offset":0.652,"color":"rgba(85,85,85,0)"},
              {"offset":0.656,"color":"#555"},{"offset":0.66,"color":"rgba(85,85,85,0)"},{"offset":0.668,"color":"rgba(85,85,85,0)"},
              {"offset":0.672,"color":"#555"},{"offset":0.676,"color":"rgba(85,85,85,0)"},{"offset":0.684,"color":"rgba(85,85,85,0)"},
              {"offset":0.688,"color":"#555"},{"offset":0.692,"color":"rgba(85,85,85,0)"},{"offset":0.7,"color":"rgba(85,85,85,0)"},
              {"offset":0.704,"color":"#555"},{"offset":0.708,"color":"rgba(85,85,85,0)"},{"offset":0.716,"color":"rgba(85,85,85,0)"},
              {"offset":0.72,"color":"#555"},{"offset":0.724,"color":"rgba(85,85,85,0)"},{"offset":0.732,"color":"rgba(85,85,85,0)"},
              {"offset":0.736,"color":"#555"},{"offset":0.74,"color":"rgba(85,85,85,0)"},{"offset":0.748,"color":"rgba(85,85,85,0)"},
              {"offset":0.752,"color":"#555"},{"offset":0.756,"color":"rgba(85,85,85,0)"},{"offset":0.764,"color":"rgba(85,85,85,0)"},
              {"offset":0.768,"color":"#555"},{"offset":0.772,"color":"rgba(85,85,85,0)"},{"offset":0.78,"color":"rgba(85,85,85,0)"},
              {"offset":0.784,"color":"#555"},{"offset":0.788,"color":"rgba(85,85,85,0)"},{"offset":0.796,"color":"rgba(85,85,85,0)"},
              {"offset":0.8,"color":"#555"},{"offset":0.804,"color":"rgba(85,85,85,0)"},{"offset":0.812,"color":"rgba(85,85,85,0)"},
              {"offset":0.816,"color":"#555"},{"offset":0.82,"color":"rgba(85,85,85,0)"},{"offset":0.828,"color":"rgba(85,85,85,0)"},
              {"offset":0.832,"color":"#555"},{"offset":0.836,"color":"rgba(85,85,85,0)"},{"offset":0.844,"color":"rgba(85,85,85,0)"},
              {"offset":0.848,"color":"#555"},{"offset":0.852,"color":"rgba(85,85,85,0)"},{"offset":0.86,"color":"rgba(85,85,85,0)"},
              {"offset":0.864,"color":"#555"},{"offset":0.868,"color":"rgba(85,85,85,0)"},{"offset":0.876,"color":"rgba(85,85,85,0)"},
              {"offset":0.88,"color":"#555"},{"offset":0.884,"color":"rgba(85,85,85,0)"},{"offset":0.892,"color":"rgba(85,85,85,0)"},
              {"offset":0.896,"color":"#555"},{"offset":0.9,"color":"rgba(85,85,85,0)"},{"offset":0.908,"color":"rgba(85,85,85,0)"},
              {"offset":0.912,"color":"#555"},{"offset":0.916,"color":"rgba(85,85,85,0)"},{"offset":0.924,"color":"rgba(85,85,85,0)"},
              {"offset":0.928,"color":"#555"},{"offset":0.932,"color":"rgba(85,85,85,0)"},{"offset":0.94,"color":"rgba(85,85,85,0)"},
              {"offset":0.944,"color":"#555"},{"offset":0.948,"color":"rgba(85,85,85,0)"},{"offset":0.956,"color":"rgba(85,85,85,0)"},
              {"offset":0.96,"color":"#555"},{"offset":0.964,"color":"rgba(85,85,85,0)"},{"offset":0.972,"color":"rgba(85,85,85,0)"},
              {"offset":0.976,"color":"#555"},{"offset":0.98,"color":"rgba(85,85,85,0)"},{"offset":0.988,"color":"rgba(85,85,85,0)"},
              {"offset":0.992,"color":"#555"},{"offset":0.996,"color":"rgba(85,85,85,0)"}]}}
          ],
          "value": "transparent"
        }
      }
    },
    {
      "transform": [{"filter": "datum.id === 'coal'"}],
      "layer": [
        {"mark": "rule", "encoding": {
          "x": {"field": "ex", "type": "quantitative", "scale": {"domain": [-2.3934, 2.2567], "nice": false, "zero": false}, "axis": null},
          "y": {"field": "ey", "type": "quantitative", "scale": {"domain": [-1.3851, 1.4969], "nice": false, "zero": false}, "axis": null},
          "x2": {"datum": 1.1015}, "y2": {"datum": 0.7723}}},
        {"mark": "rule", "encoding": {
          "x": {"datum": 1.1015, "type": "quantitative", "scale": {"domain": [-2.3934, 2.2567], "nice": false, "zero": false}, "axis": null},
          "y": {"datum": 0.7723, "type": "quantitative", "scale": {"domain": [-1.3851, 1.4969], "nice": false, "zero": false}, "axis": null},
          "x2": {"datum": 1.1636}, "y2": {"datum": 0.7723}}},
        {"mark": "text", "encoding": {
          "x": {"datum": 1.5839, "type": "quantitative", "scale": {"domain": [-2.3934, 2.2567], "nice": false, "zero": false}, "axis": null},
          "y": {"datum": 0.8675, "type": "quantitative", "scale": {"domain": [-1.3851, 1.4969], "nice": false, "zero": false}, "axis": null},
          "text": {"field": "txt"}}}
      ]
    },
    {
      "transform": [{"filter": "datum.id === 'other'"}],
      "layer": [
        {"mark": "rule", "encoding": {
          "x": {"field": "ex", "type": "quantitative", "scale": {"domain": [-2.3934, 2.2567], "nice": false, "zero": false}, "axis": null},
          "y": {"field": "ey", "type": "quantitative", "scale": {"domain": [-1.3851, 1.4969], "nice": false, "zero": false}, "axis": null},
          "x2": {"datum": 1.5888}, "y2": {"datum": -0.742}}},
        {"mark": "rule", "encoding": {
          "x": {"datum": 1.5888, "type": "quantitative", "scale": {"domain": [-2.3934, 2.2567], "nice": false, "zero": false}, "axis": null},
          "y": {"datum": -0.742, "type": "quantitative", "scale": {"domain": [-1.3851, 1.4969], "nice": false, "zero": false}, "axis": null},
          "x2": {"datum": 1.5888}, "y2": {"datum": -0.6824}}},
        {"mark": "text", "encoding": {
          "x": {"datum": 1.5859, "type": "quantitative", "scale": {"domain": [-2.3934, 2.2567], "nice": false, "zero": false}, "axis": null},
          "y": {"datum": -0.4215, "type": "quantitative", "scale": {"domain": [-1.3851, 1.4969], "nice": false, "zero": false}, "axis": null},
          "text": {"field": "txt"}}}
      ]
    },
    {
      "transform": [{"filter": "datum.id === 'trans'"}],
      "layer": [
        {"mark": "rule", "encoding": {
          "x": {"field": "ex", "type": "quantitative", "scale": {"domain": [-2.3934, 2.2567], "nice": false, "zero": false}, "axis": null},
          "y": {"field": "ey", "type": "quantitative", "scale": {"domain": [-1.3851, 1.4969], "nice": false, "zero": false}, "axis": null},
          "x2": {"datum": -0.4886}, "y2": {"datum": -1.1271}}},
        {"mark": "rule", "encoding": {
          "x": {"datum": -0.4886, "type": "quantitative", "scale": {"domain": [-2.3934, 2.2567], "nice": false, "zero": false}, "axis": null},
          "y": {"datum": -1.1271, "type": "quantitative", "scale": {"domain": [-1.3851, 1.4969], "nice": false, "zero": false}, "axis": null},
          "x2": {"datum": -0.5437}, "y2": {"datum": -1.1271}}},
        {"mark": "text", "encoding": {
          "x": {"datum": -0.9441, "type": "quantitative", "scale": {"domain": [-2.3934, 2.2567], "nice": false, "zero": false}, "axis": null},
          "y": {"datum": -1.0311, "type": "quantitative", "scale": {"domain": [-1.3851, 1.4969], "nice": false, "zero": false}, "axis": null},
          "text": {"field": "txt"}}}
      ]
    },
    {
      "transform": [{"filter": "datum.id === 'ind'"}],
      "layer": [
        {"mark": "rule", "encoding": {
          "x": {"field": "ex", "type": "quantitative", "scale": {"domain": [-2.3934, 2.2567], "nice": false, "zero": false}, "axis": null},
          "y": {"field": "ey", "type": "quantitative", "scale": {"domain": [-1.3851, 1.4969], "nice": false, "zero": false}, "axis": null},
          "x2": {"datum": -1.619}, "y2": {"datum": -0.5383}}},
        {"mark": "rule", "encoding": {
          "x": {"datum": -1.619, "type": "quantitative", "scale": {"domain": [-2.3934, 2.2567], "nice": false, "zero": false}, "axis": null},
          "y": {"datum": -0.5383, "type": "quantitative", "scale": {"domain": [-1.3851, 1.4969], "nice": false, "zero": false}, "axis": null},
          "x2": {"datum": -1.619}, "y2": {"datum": -0.4795}}},
        {"mark": "text", "encoding": {
          "x": {"datum": -1.617, "type": "quantitative", "scale": {"domain": [-2.3934, 2.2567], "nice": false, "zero": false}, "axis": null},
          "y": {"datum": -0.2215, "type": "quantitative", "scale": {"domain": [-1.3851, 1.4969], "nice": false, "zero": false}, "axis": null},
          "text": {"field": "txt"}}}
      ]
    },
    {
      "transform": [{"filter": "datum.id === 'tpt'"}],
      "layer": [
        {"mark": "rule", "encoding": {
          "x": {"field": "ex", "type": "quantitative", "scale": {"domain": [-2.3934, 2.2567], "nice": false, "zero": false}, "axis": null},
          "y": {"field": "ey", "type": "quantitative", "scale": {"domain": [-1.3851, 1.4969], "nice": false, "zero": false}, "axis": null},
          "x2": {"datum": -1.2369}, "y2": {"datum": 0.383}}},
        {"mark": "rule", "encoding": {
          "x": {"datum": -1.2369, "type": "quantitative", "scale": {"domain": [-2.3934, 2.2567], "nice": false, "zero": false}, "axis": null},
          "y": {"datum": 0.383, "type": "quantitative", "scale": {"domain": [-1.3851, 1.4969], "nice": false, "zero": false}, "axis": null},
          "x2": {"datum": -1.2961}, "y2": {"datum": 0.383}}},
        {"mark": "text", "encoding": {
          "x": {"datum": -1.6584, "type": "quantitative", "scale": {"domain": [-2.3934, 2.2567], "nice": false, "zero": false}, "axis": null},
          "y": {"datum": 0.4741, "type": "quantitative", "scale": {"domain": [-1.3851, 1.4969], "nice": false, "zero": false}, "axis": null},
          "text": {"field": "txt"}}}
      ]
    },
    {
      "transform": [{"filter": "datum.id === 'oth'"}],
      "layer": [
        {"mark": "rule", "encoding": {
          "x": {"field": "ex", "type": "quantitative", "scale": {"domain": [-2.3934, 2.2567], "nice": false, "zero": false}, "axis": null},
          "y": {"field": "ey", "type": "quantitative", "scale": {"domain": [-1.3851, 1.4969], "nice": false, "zero": false}, "axis": null},
          "x2": {"datum": -0.7673}, "y2": {"datum": 1.142}}},
        {"mark": "rule", "encoding": {
          "x": {"datum": -0.7673, "type": "quantitative", "scale": {"domain": [-2.3934, 2.2567], "nice": false, "zero": false}, "axis": null},
          "y": {"datum": 1.142, "type": "quantitative", "scale": {"domain": [-1.3851, 1.4969], "nice": false, "zero": false}, "axis": null},
          "x2": {"datum": -0.8269}, "y2": {"datum": 1.142}}},
        {"mark": "text", "encoding": {
          "x": {"datum": -1.1855, "type": "quantitative", "scale": {"domain": [-2.3934, 2.2567], "nice": false, "zero": false}, "axis": null},
          "y": {"datum": 1.2402, "type": "quantitative", "scale": {"domain": [-1.3851, 1.4969], "nice": false, "zero": false}, "axis": null},
          "text": {"field": "txt"}}}
      ]
    },
    {
      "transform": [{"filter": "datum.id === 'ne'"}],
      "layer": [
        {"mark": "rule", "encoding": {
          "x": {"field": "ex", "type": "quantitative", "scale": {"domain": [-2.3934, 2.2567], "nice": false, "zero": false}, "axis": null},
          "y": {"field": "ey", "type": "quantitative", "scale": {"domain": [-1.3851, 1.4969], "nice": false, "zero": false}, "axis": null},
          "x2": {"datum": 0.1188}, "y2": {"datum": 1.2153}}},
        {"mark": "rule", "encoding": {
          "x": {"datum": 0.1188, "type": "quantitative", "scale": {"domain": [-2.3934, 2.2567], "nice": false, "zero": false}, "axis": null},
          "y": {"datum": 1.2153, "type": "quantitative", "scale": {"domain": [-1.3851, 1.4969], "nice": false, "zero": false}, "axis": null},
          "x2": {"datum": 0.1768}, "y2": {"datum": 1.2153}}},
        {"mark": "text", "encoding": {
          "x": {"datum": 0.4915, "type": "quantitative", "scale": {"domain": [-2.3934, 2.2567], "nice": false, "zero": false}, "axis": null},
          "y": {"datum": 1.2609, "type": "quantitative", "scale": {"domain": [-1.3851, 1.4969], "nice": false, "zero": false}, "axis": null},
          "text": {"field": "txt"}}}
      ]
    }
  ]
}
